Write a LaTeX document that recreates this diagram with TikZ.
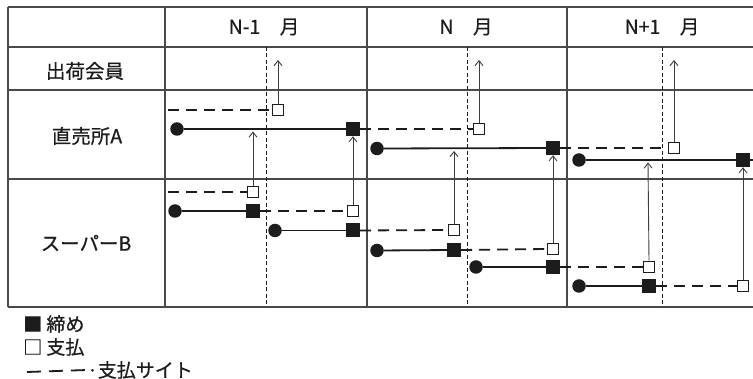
\documentclass[tikz,border=0pt]{standalone}
\usepackage{fontspec}
\setmainfont{Noto Sans CJK JP}[FakeBold=0.6]
\usetikzlibrary{arrows.meta}
\definecolor{ink}{HTML}{1C1C1C}
\definecolor{gridc}{HTML}{4A4A4A}
\begin{document}
\begin{tikzpicture}[x=1pt,y=-1pt,
 dot/.style={circle,fill=ink,inner sep=0pt,minimum size=13.5pt},
 closebox/.style={rectangle,fill=ink,inner sep=0pt,minimum size=14pt},
 paybox/.style={rectangle,draw=ink,line width=1.8pt,fill=white,inner sep=0pt,minimum size=11pt},
 period/.style={draw=ink,line width=1.8pt},
 site/.style={draw=ink,line width=1.8pt,dash pattern=on 11pt off 7pt},
 flow/.style={draw=ink!85,line width=0.9pt,-{Straight Barb[length=5pt,width=8pt,line width=0.9pt]}},
 gridline/.style={draw=gridc,line width=1.3pt},
 guide/.style={draw=ink,line width=0.8pt,dash pattern=on 4pt off 2.5pt},
 lbl/.style={font=\fontsize{19.5}{22}\selectfont,text=ink,inner sep=0pt},
 leg/.style={font=\fontsize{19}{22}\selectfont,text=ink,inner sep=0pt}
]
\useasboundingbox[fill=white] (0,0) rectangle (753,379);

% grid
\foreach \y in {7,47,90,179,307} \draw[gridline] (8,\y) -- (753,\y);
\foreach \x in {8,165,367,567} \draw[gridline] (\x,7) -- (\x,307);
\foreach \x in {266,467,662} \draw[guide] (\x,47) -- (\x,307);

% headers and row labels
\node[lbl] (h1) at (264,27) {N-1　月};
\node[lbl] (h2) at (466,27) {N　月};
\node[lbl] (h3) at (662,27) {N+1　月};
\node[lbl] (r1) at (85,71) {出荷会員};
\node[lbl] (r2) at (87,136) {直売所A};
\node[lbl] (r3) at (86,243) {スーパーB};

% coordinates
\coordinate (sA0) at (168,110);
\coordinate (sB0) at (168,192);
\coordinate (eA) at (753,160);
\coordinate (m1) at (278,60);
\coordinate (m2) at (479,60);
\coordinate (m3) at (674,60);
\coordinate (tA1) at (253,131.5);
\coordinate (tA2) at (454,151);
\coordinate (tA3) at (648,162.5);

% direct sales A
\node[paybox] (pA1) at (278,110) {};
\node[dot] (dA1) at (177,129) {};
\node[closebox] (fA1) at (353,129) {};
\node[paybox] (pA2) at (479,129) {};
\node[dot] (dA2) at (377,148.5) {};
\node[closebox] (fA2) at (553,148) {};
\node[paybox] (pA3) at (674,148) {};
\node[dot] (dA3) at (579,160) {};
\node[closebox] (fA3) at (743,160) {};

% supermarket B
\node[paybox] (pB1) at (253,192) {};
\node[dot] (dB1) at (175,211) {};
\node[closebox] (fB1) at (253,211) {};
\node[paybox] (pB2) at (353,211) {};
\node[dot] (dB2) at (275,230.5) {};
\node[closebox] (fB2) at (353,230.5) {};
\node[paybox] (pB3) at (454,230) {};
\node[dot] (dB3) at (377,250.5) {};
\node[closebox] (fB3) at (454,250) {};
\node[paybox] (pB4) at (553,249) {};
\node[dot] (dB4) at (476,267) {};
\node[closebox] (fB4) at (553,267) {};
\node[paybox] (pB5) at (649,267) {};
\node[dot] (dB5) at (579,286) {};
\node[closebox] (fB5) at (649,286) {};
\node[paybox] (pB6) at (743,286) {};

% periods
\draw[period] (dA1) -- (fA1);
\draw[period] (dA2) -- (fA2);
\draw[period] (dA3) -- (fA3);
\draw[period] (dB1) -- (fB1);
\draw[period] (dB2) -- (fB2);
\draw[period] (dB3) -- (fB3);
\draw[period] (dB4) -- (fB4);
\draw[period] (dB5) -- (fB5);

% payment sites
\draw[site] (sA0) -- (pA1.west);
\draw[site] (fA1.east) -- (pA2.west);
\draw[site] (fA2.east) -- (pA3.west);
\draw[site] (fA3.east) -- (eA);
\draw[site] (sB0) -- (pB1.west);
\draw[site] (fB1.east) -- (pB2.west);
\draw[site] (fB2.east) -- (pB3.west);
\draw[site] (fB3.east) -- (pB4.west);
\draw[site] (fB4.east) -- (pB5.west);
\draw[site] (fB5.east) -- (pB6.west);

% payment flows
\draw[flow] (pA1.north) -- (m1);
\draw[flow] (pA2.north) -- (m2);
\draw[flow] (pA3.north) -- (m3);
\draw[flow] (pB1.north) -- (tA1);
\draw[flow] (pB2.north) -- (fA1.south);
\draw[flow] (pB3.north) -- (tA2);
\draw[flow] (pB4.north) -- (fA2.south);
\draw[flow] (pB5.north) -- (tA3);
\draw[flow] (pB6.north) -- (fA3.south);

% legend
\node[leg,anchor=west] (lg1) at (23,324) {■ 締め};
\node[leg,anchor=west] (lg2) at (23,347) {□ 支払};
\coordinate (lgs) at (27,372);
\node[leg,anchor=west] (lg3) at (87,370) {·支払サイト};
\draw[site,dash pattern=on 14pt off 8pt] (lgs) -- (lg3.west);
\end{tikzpicture}
\end{document}
